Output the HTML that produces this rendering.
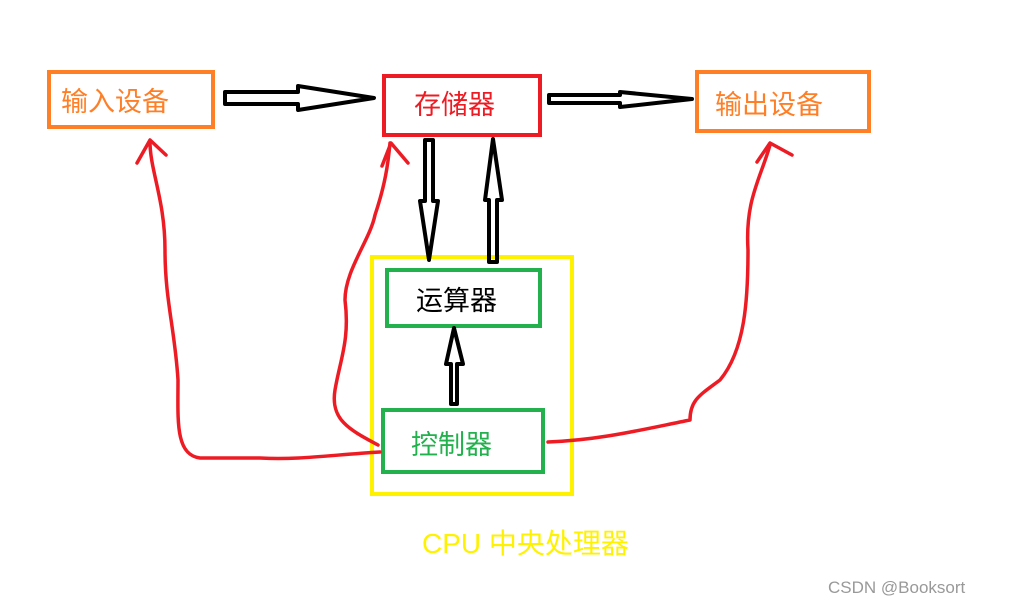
<!DOCTYPE html>
<html><head><meta charset="utf-8"><style>
html,body{margin:0;padding:0;background:#fff;width:1024px;height:604px;overflow:hidden}
svg{display:block}
text{font-family:"Liberation Sans","Noto Sans CJK SC",sans-serif}
</style></head><body>
<svg width="1024" height="604" viewBox="0 0 1024 604" xmlns="http://www.w3.org/2000/svg">
<rect width="1024" height="604" fill="#fff"/>
<!-- boxes -->
<rect x="49" y="72" width="164" height="55" fill="none" stroke="#ff7f27" stroke-width="4"/>
<text x="61" y="111" font-size="27" fill="#ff7f27">输入设备</text>
<rect x="384" y="76" width="156" height="59" fill="none" stroke="#ed1c24" stroke-width="4"/>
<text x="414" y="114" font-size="27" fill="#ed1c24">存储器</text>
<rect x="697" y="72" width="172" height="59" fill="none" stroke="#ff7f27" stroke-width="4"/>
<text x="715" y="114" font-size="27" fill="#ff7f27">输出设备</text>
<rect x="372" y="257" width="200" height="237" fill="none" stroke="#fff200" stroke-width="4"/>
<rect x="387" y="270" width="153" height="56" fill="none" stroke="#22b14c" stroke-width="4"/>
<text x="416" y="310" font-size="27" fill="#000">运算器</text>
<rect x="383" y="410" width="160" height="62" fill="none" stroke="#22b14c" stroke-width="4"/>
<text x="411" y="454" font-size="27" fill="#22b14c">控制器</text>
<text x="422" y="553" font-size="28" fill="#fff200">CPU 中央处理器</text>
<text x="828" y="593" font-size="17" fill="#999">CSDN @Booksort</text>
<!-- black hollow arrows -->
<g fill="none" stroke="#000" stroke-width="4" stroke-linejoin="round">
<path d="M225 92 L298 92 L298 86 L374 98 L298 110 L298 104 L225 104 Z"/>
<path d="M549 95 L620 95 L620 92 L692 99 L620 107 L620 103 L549 103 Z"/>
<path d="M425 140 L433 140 L433 201 L438 201 L429 260 L420 201 L425 201 Z"/>
<path d="M489 262 L497 262 L497 200 L502 200 L493 139 L485 200 L489 200 Z"/>
<path d="M451 404 L457 404 L457 364 L463 364 L454 328 L446 364 L451 364 Z"/>
</g>
<!-- red curves -->
<g fill="none" stroke="#ed1c24" stroke-width="3.5" stroke-linecap="round" stroke-linejoin="round">
<path d="M380 452 C330 455 300 460 260 458 L200 458 C175 455 178 420 178 380 C175 330 165 300 165 250 C165 200 150 170 150 142"/>
<path d="M137 163 L150 140 L166 155"/>
<path d="M378 445 C350 430 330 420 335 390 C340 360 350 340 345 300 C345 270 370 240 375 215 C385 185 388 165 390 143"/>
<path d="M382 166 L391 143 L408 163"/>
<path d="M548 442 C600 440 640 430 690 420 C690 400 700 395 720 380 C745 350 748 300 748 250 C745 200 760 180 770 145"/>
<path d="M757 162 L770 143 L792 155"/>
</g>
</svg>
</body></html>
